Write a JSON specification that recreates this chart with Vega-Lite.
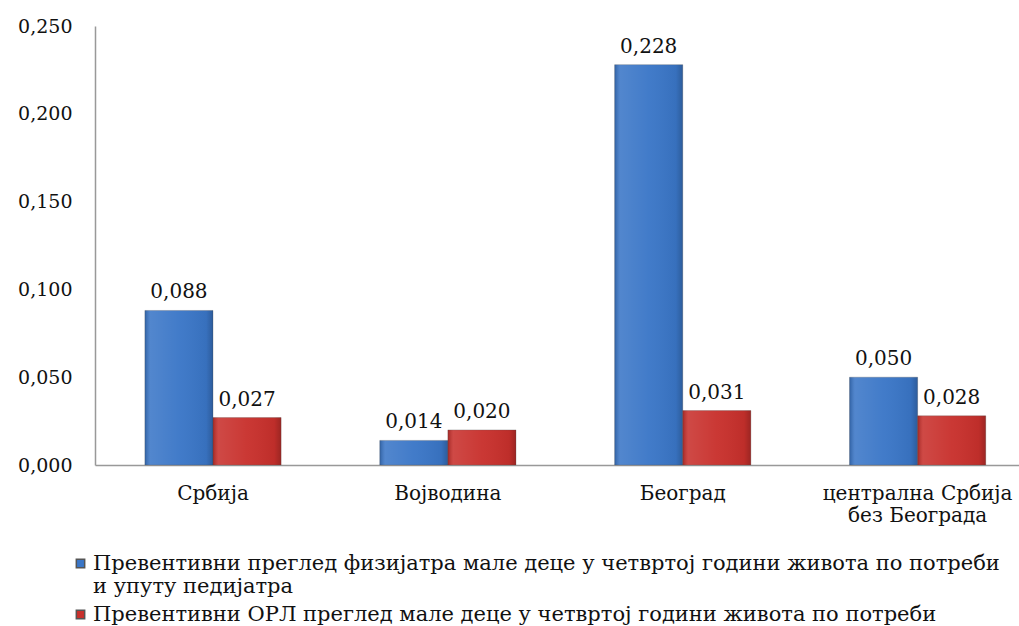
{
  "$schema": "https://vega.github.io/schema/vega-lite/v6.json",
  "width": 924,
  "height": 439,
  "autosize": {"type": "none"},
  "padding": {"left": 95, "top": 26, "right": 0, "bottom": 161},
  "background": "white",
  "config": {
    "locale": {"number": {"decimal": ",", "thousands": ".", "grouping": [3], "currency": ["", ""]}},
    "view": {"stroke": null},
    "font": "DejaVu Serif",
    "text": {"font": "DejaVu Serif"}
  },
  "data": {
    "values": [
      {"region": "Србија", "series": "Превентивни  преглед физијатра  мале деце у четвртој години живота по потреби и упуту педијатра", "value": 0.088},
      {"region": "Србија", "series": "Превентивни  ОРЛ преглед  мале деце у четвртој години живота  по потреби", "value": 0.027},
      {"region": "Војводина", "series": "Превентивни  преглед физијатра  мале деце у четвртој години живота по потреби и упуту педијатра", "value": 0.014},
      {"region": "Војводина", "series": "Превентивни  ОРЛ преглед  мале деце у четвртој години живота  по потреби", "value": 0.020},
      {"region": "Београд", "series": "Превентивни  преглед физијатра  мале деце у четвртој години живота по потреби и упуту педијатра", "value": 0.228},
      {"region": "Београд", "series": "Превентивни  ОРЛ преглед  мале деце у четвртој години живота  по потреби", "value": 0.031},
      {"region": "централна Србија без Београда", "series": "Превентивни  преглед физијатра  мале деце у четвртој години живота по потреби и упуту педијатра", "value": 0.050},
      {"region": "централна Србија без Београда", "series": "Превентивни  ОРЛ преглед  мале деце у четвртој години живота  по потреби", "value": 0.028}
    ]
  },
  "encoding": {
    "x": {
      "field": "region", "type": "nominal", "sort": null,
      "scale": {"paddingInner": 0.42, "paddingOuter": 0.177, "align": 0.6},
      "axis": {
        "title": null, "labelAngle": 0, "ticks": false, "domainColor": "#999999", "domainWidth": 1.5,
        "labelFont": "DejaVu Serif", "labelFontSize": 20, "labelColor": "#111111", "labelPadding": 18,
        "labelLineHeight": 22, "labelLimit": 400, "labelOverlap": false, "labelBound": false,
        "labelExpr": "datum.value == 'централна Србија без Београда' ? ['централна  Србија', 'без Београда'] : datum.value"
      }
    },
    "xOffset": {"field": "series", "type": "nominal", "sort": null, "scale": {"paddingInner": 0}},
    "y": {
      "field": "value", "type": "quantitative",
      "scale": {"domain": [0, 0.25], "nice": false},
      "axis": {
        "title": null, "values": [0, 0.05, 0.1, 0.15, 0.2, 0.25], "format": ".3f", "ticks": false, "grid": false,
        "domainColor": "#999999", "domainWidth": 1.5, "labelPadding": 23,
        "labelFont": "DejaVu Serif", "labelFontSize": 19, "labelColor": "#111111"
      }
    }
  },
  "layer": [
    {
      "mark": {"type": "bar", "stroke": "#555555", "strokeWidth": 0.3},
      "encoding": {
        "color": {
          "field": "series", "type": "nominal", "sort": null,
          "scale": {"range": ["#3A76C7", "#C8302C"]},
          "legend": {
            "title": null, "orient": "none", "legendX": -25, "legendY": 527,
            "direction": "vertical", "symbolType": "square", "symbolSize": 70,
            "labelFont": "DejaVu Serif", "labelFontSize": 21, "labelColor": "#111111",
            "labelLimit": 2000, "labelLineHeight": 20, "rowPadding": 6, "labelOffset": 2,
            "labelExpr": "datum.value == 'Превентивни  преглед физијатра  мале деце у четвртој години живота по потреби и упуту педијатра' ? ['Превентивни  преглед физијатра  мале деце у четвртој години живота по потреби', 'и упуту педијатра'] : datum.value"
          }
        }
      }
    },
    {
      "mark": {
        "type": "bar",
        "fill": {
          "gradient": "linear", "x1": 0, "x2": 1, "y1": 0, "y2": 0,
          "stops": [
            {"offset": 0, "color": "rgba(0,0,0,0.18)"},
            {"offset": 0.08, "color": "rgba(255,255,255,0.12)"},
            {"offset": 0.5, "color": "rgba(255,255,255,0.04)"},
            {"offset": 0.9, "color": "rgba(0,0,0,0.05)"},
            {"offset": 1, "color": "rgba(0,0,0,0.22)"}
          ]
        }
      },
      "encoding": {}
    },
    {
      "mark": {"type": "text", "baseline": "bottom", "dy": -8, "fontSize": 20, "font": "DejaVu Serif", "color": "#111111"},
      "encoding": {
        "text": {"field": "value", "type": "quantitative", "format": ".3f"}
      }
    }
  ]
}
